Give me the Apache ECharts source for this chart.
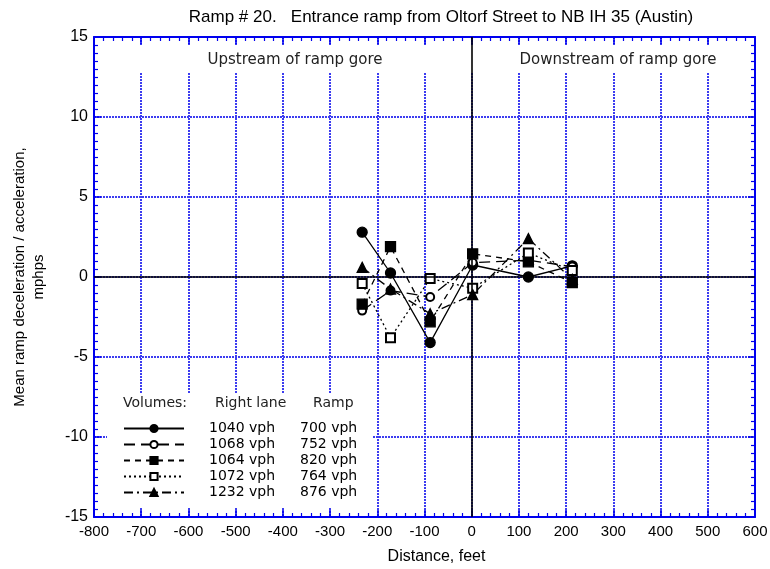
<!DOCTYPE html>
<html>
<head>
<meta charset="utf-8">
<script src="https://cdn.jsdelivr.net/npm/echarts@6/dist/echarts.min.js"></script>
<style>
html,body{margin:0;padding:0;background:#fff;}
#chart{width:770px;height:569px;}
</style>
</head>
<body>
<div id="chart"></div>
<script>
// ---- data ----
var distances = [-232, -172, -88, 2, 120, 213];
var s1040 = [2.8, 0.25, -4.1, 0.75, 0.0, 0.7];
var s1068 = [-2.1, -0.85, -1.25, 0.9, 1.05, 0.65];
var s1064 = [-1.7, 1.9, -2.8, 1.45, 0.95, -0.35];
var s1072 = [-0.4, -3.8, -0.1, -0.7, 1.5, 0.4];
var s1232 = [0.6, -0.75, -2.3, -1.1, 2.4, -0.15];
var rightLane = ['1040 vph', '1068 vph', '1064 vph', '1072 vph', '1232 vph'];
var rampVol = ['700 vph', '752 vph', '820 vph', '764 vph', '876 vph'];
var xTicks = {min: -800, max: 600, interval: 100};
var yTicks = {min: -15, max: 15, interval: 5};

var allValues = [s1040, s1068, s1064, s1072, s1232];
var symbols = ['circle', 'emptyCircle', 'rect', 'emptyRect', 'triangle'];
var symbolSizes = [10, 8, 10, 9, 10];
var dashes = ['solid', [11, 6], [6, 5], [2, 3], [9, 4, 2, 4]];

var BLUE = '#0000ee';
var GRID = '#3c3cf0';

function pairs(vals) {
  return distances.map(function (d, i) { return [d, vals[i]]; });
}

var series = allValues.map(function (vals, i) {
  return {
    name: rightLane[i] + '|' + rampVol[i],
    type: 'line',
    xAxisIndex: 0, yAxisIndex: 0,
    data: pairs(vals),
    symbol: symbols[i],
    symbolSize: symbolSizes[i],
    showAllSymbol: true,
    itemStyle: {color: '#000', borderColor: '#000', borderWidth: 1.3},
    lineStyle: {color: '#000', width: 1.3, type: dashes[i]},
    z: 3
  };
});
series[0].markLine = {
  silent: true, symbol: 'none', animation: false,
  label: {show: false},
  lineStyle: {color: '#000', type: 'solid', width: 1.6},
  data: [{xAxis: 0}, {yAxis: 0}]
};

function axisCommon(extra) {
  var base = {
    type: 'value',
    axisLine: {show: true, onZero: false, lineStyle: {color: BLUE, width: 2}},
    axisTick: {show: true, inside: true, length: 7, lineStyle: {color: BLUE, width: 1.5}},
    minorTick: {show: true, length: 4, lineStyle: {color: BLUE, width: 1.2}},
    splitLine: {show: false},
    axisLabel: {show: false}
  };
  for (var k in extra) base[k] = extra[k];
  return base;
}

var chart = echarts.init(document.getElementById('chart'), null, {renderer: 'canvas'});
chart.setOption({
  animation: false,
  backgroundColor: '#fff',
  title: {
    text: 'Ramp # 20.   Entrance ramp from Oltorf Street to NB IH 35 (Austin)',
    left: 436, top: 4, textAlign: 'center',
    textStyle: {fontFamily: 'Liberation Sans', fontSize: 17, fontWeight: 'normal', color: '#000'}
  },
  grid: {left: 94, right: 15, top: 37, bottom: 52, containLabel: false, outerBoundsMode: 'none'},
  xAxis: [
    axisCommon({
      min: xTicks.min, max: xTicks.max, interval: xTicks.interval, position: 'bottom',
      minorTick: {show: true, splitNumber: 5, length: 4, lineStyle: {color: BLUE, width: 1.2}},
      axisLabel: {show: true, color: '#000', fontFamily: 'Liberation Sans', fontSize: 15, margin: 7},
      splitLine: {show: true, lineStyle: {color: GRID, type: [2, 1], width: 2}},
      name: 'Distance, feet', nameLocation: 'middle', nameGap: 32,
      nameTextStyle: {fontFamily: 'Liberation Sans', fontSize: 16, color: '#000', padding: [0, 0, 0, 24]}
    }),
    axisCommon({
      min: xTicks.min, max: xTicks.max, interval: xTicks.interval, position: 'top',
      minorTick: {show: true, splitNumber: 5, length: 4, lineStyle: {color: BLUE, width: 1.2}}
    })
  ],
  yAxis: [
    axisCommon({
      min: yTicks.min, max: yTicks.max, interval: yTicks.interval, position: 'left',
      minorTick: {show: true, splitNumber: 10, length: 4, lineStyle: {color: BLUE, width: 1.2}},
      axisLabel: {show: true, color: '#000', fontFamily: 'Liberation Sans', fontSize: 16, margin: 6},
      splitLine: {show: true, lineStyle: {color: GRID, type: [2, 1], width: 2}},
      name: 'Mean ramp deceleration / acceleration,\nmphps', nameLocation: 'middle', nameGap: 46,
      nameRotate: 90,
      nameTextStyle: {fontFamily: 'Liberation Sans', fontSize: 15, color: '#000', lineHeight: 19, align: 'center'}
    }),
    axisCommon({
      min: yTicks.min, max: yTicks.max, interval: yTicks.interval, position: 'right',
      minorTick: {show: true, splitNumber: 10, length: 4, lineStyle: {color: BLUE, width: 1.2}}
    })
  ],
  legend: {
    orient: 'vertical', left: 123, top: 421,
    itemWidth: 60, itemHeight: 9, itemGap: 1, padding: 0,
    data: series.map(function (s) { return s.name; }),
    formatter: function (name) {
      var p = name.split('|');
      return '{a|' + p[0] + '}{b|' + p[1] + '}';
    },
    textStyle: {
      color: '#000', fontFamily: 'DejaVu Sans', fontSize: 14, lineHeight: 15,
      rich: {
        a: {fontFamily: 'DejaVu Sans', fontSize: 14, width: 91, padding: [0, 0, 0, 20], lineHeight: 15, color: '#000'},
        b: {fontFamily: 'DejaVu Sans', fontSize: 14, lineHeight: 15, color: '#000'}
      }
    },
    selectedMode: false
  },
  graphic: [
    {type: 'rect', z: 1, silent: true, shape: {x: 104, y: 46, width: 640, height: 26}, style: {fill: '#fff'}},
    {type: 'rect', z: 1, silent: true, shape: {x: 107, y: 393, width: 265, height: 115}, style: {fill: '#fff'}},
    {type: 'text', z: 5, style: {text: 'Upstream of ramp gore', x: 295, y: 60, align: 'center', verticalAlign: 'middle', font: '15px "DejaVu Sans"', fill: '#222'}},
    {type: 'text', z: 5, style: {text: 'Downstream of ramp gore', x: 618, y: 60, align: 'center', verticalAlign: 'middle', font: '15px "DejaVu Sans"', fill: '#222'}},
    {type: 'text', z: 5, style: {text: 'Volumes:', x: 123, y: 403, verticalAlign: 'middle', font: '14px "DejaVu Sans"', fill: '#222'}},
    {type: 'text', z: 5, style: {text: 'Right lane', x: 215, y: 403, verticalAlign: 'middle', font: '14px "DejaVu Sans"', fill: '#222'}},
    {type: 'text', z: 5, style: {text: 'Ramp', x: 313, y: 403, verticalAlign: 'middle', font: '14px "DejaVu Sans"', fill: '#222'}}
  ],
  series: series
});
</script>
</body>
</html>
